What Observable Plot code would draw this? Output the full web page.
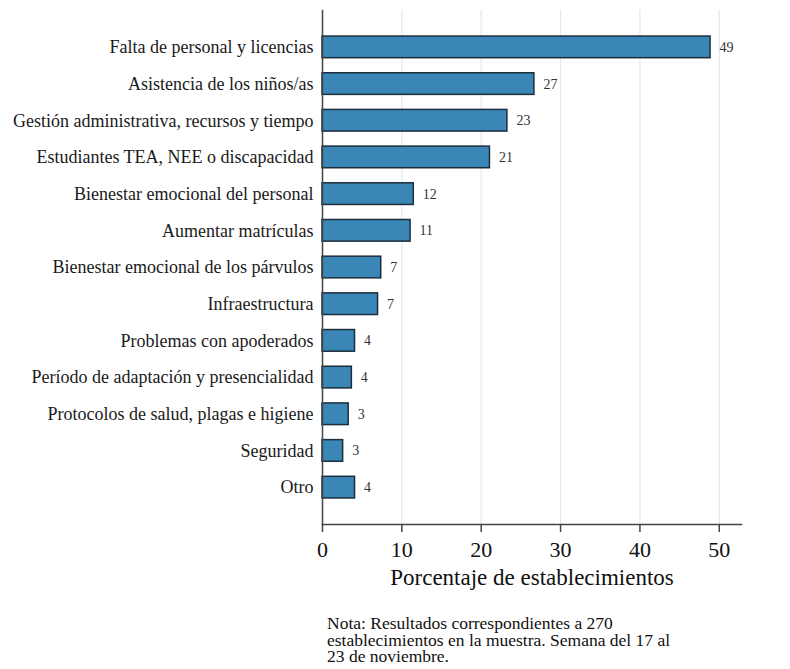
<!DOCTYPE html>
<html>
<head>
<meta charset="utf-8">
<script src="https://cdn.jsdelivr.net/npm/d3@7"></script>
<script src="https://cdn.jsdelivr.net/npm/@observablehq/plot@0.6"></script>
<style>
  body { margin: 0; background: #fff; font-family: "Liberation Serif", serif; }
  #chart svg { display: block; }
  #note { margin-left: 327px; margin-top: 15px; font-size: 17.5px; line-height: 16.5px; color: #111; width: 362px; }
</style>
</head>
<body>
<div id="chart"></div>
<div id="note">Nota: Resultados correspondientes a 270 establecimientos en la muestra. Semana del 17 al 23 de noviembre.</div>
<script>
const categories = [
  "Falta de personal y licencias",
  "Asistencia de los niños/as",
  "Gestión administrativa, recursos y tiempo",
  "Estudiantes TEA, NEE o discapacidad",
  "Bienestar emocional del personal",
  "Aumentar matrículas",
  "Bienestar emocional de los párvulos",
  "Infraestructura",
  "Problemas con apoderados",
  "Período de adaptación y presencialidad",
  "Protocolos de salud, plagas e higiene",
  "Seguridad",
  "Otro"
];
const values = [48.9, 26.7, 23.3, 21.1, 11.5, 11.1, 7.4, 7.0, 4.1, 3.7, 3.3, 2.6, 4.1];
const valueLabels = ["49", "27", "23", "21", "12", "11", "7", "7", "4", "4", "3", "3", "4"];
const xTicks = [0, 10, 20, 30, 40, 50];
const xLabel = "Porcentaje de establecimientos";

const data = categories.map((c, i) => ({cat: c, value: values[i], label: valueLabels[i]}));

const chart = Plot.plot({
  width: 790,
  height: 600,
  marginLeft: 322,
  marginRight: 49,
  marginTop: 10,
  marginBottom: 76,
  style: {fontFamily: "Liberation Serif, serif", color: "#222", background: "#fff"},
  x: {domain: [0, 52.8]},
  y: {domain: categories, padding: 0.41, insetTop: 11, insetBottom: 11, round: false},
  marks: [
    Plot.gridX({ticks: xTicks, stroke: "#e1e8ee", strokeOpacity: 1, strokeWidth: 1.2}),
    Plot.barX(data, {x: "value", y: "cat", fill: "#3a87b7", stroke: "#1c2d3c", strokeWidth: 1.5}),
    Plot.text(data, {x: "value", y: "cat", text: "label", textAnchor: "start", dx: 9, fontSize: 14, fill: "#333"}),
    Plot.axisY({tickSize: 0, tickPadding: 9, fontSize: 18, label: null, fill: "#1a1a1a"}),
    Plot.axisX({ticks: xTicks, tickSize: 8, tickPadding: 9, fontSize: 22, label: null, stroke: "#444", strokeWidth: 1.5, fill: "#111"}),
    Plot.text([xLabel], {frameAnchor: "bottom", dy: 60, lineAnchor: "bottom", fontSize: 23, fill: "#111"}),
    Plot.frame({anchor: "left", stroke: "#444", strokeWidth: 1.5}),
    Plot.frame({anchor: "bottom", stroke: "#444", strokeWidth: 1.5})
  ]
});
document.getElementById("chart").appendChild(chart);
</script>
</body>
</html>
